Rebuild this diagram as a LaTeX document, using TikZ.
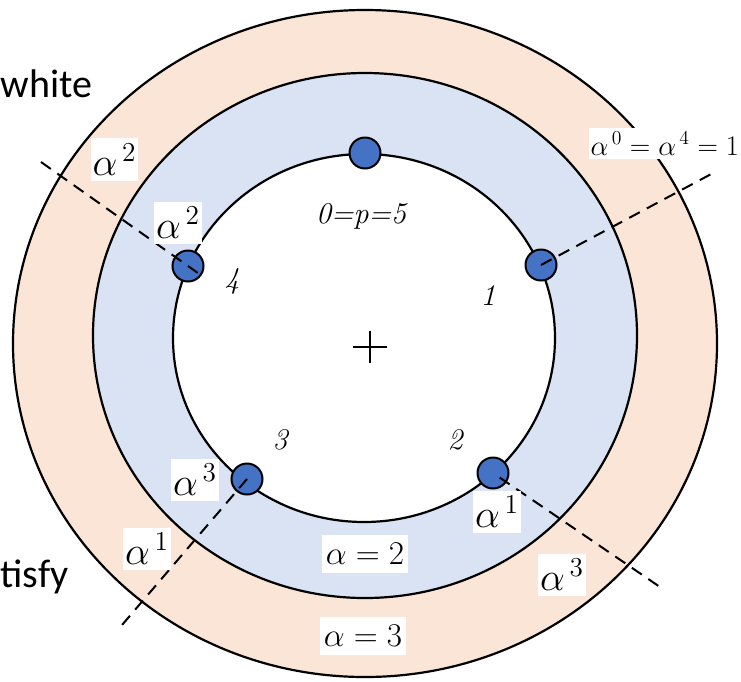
\documentclass[tikz,border=0pt]{standalone}
\usepackage{fontspec}
\newfontfamily\slidefont{Carlito}
\usetikzlibrary{calc}

\definecolor{ringpeach}{HTML}{FBE5D6}
\definecolor{ringblue}{HTML}{DAE3F3}
\definecolor{dotblue}{HTML}{4472C4}

\newcommand{\apow}[1]{$\alpha^{\,#1}$}

\tikzset{
  ring/.style={draw=black, line width=2.2pt},
  root/.style={circle, draw=black, line width=2pt, fill=dotblue, minimum size=31pt, inner sep=0pt},
  ray/.style={line width=2pt, dash pattern=on 12pt off 8pt},
  powlab/.style={fill=white, scale=1.9, inner sep=1pt, minimum height=22.6pt, font=\fontsize{20}{20}\selectfont},
  eqlab/.style={fill=white, scale=1.6, inner sep=2.5pt, minimum height=23.8pt, font=\fontsize{20}{20}\selectfont},
  idx/.style={font=\fontsize{30}{30}\selectfont\itshape},
  slide/.style={inner sep=0pt, font=\slidefont\fontsize{40}{44}\selectfont},
}

\begin{document}
\begin{tikzpicture}[x=1pt,y=-1pt]
\useasboundingbox (0,0) rectangle (741,681);
\clip (0,0) rectangle (741,681);

\filldraw[ring, fill=ringpeach] (365,343.5) ellipse [x radius=352pt, y radius=333.5pt];
\filldraw[ring, fill=ringblue] (365,335.5) ellipse [x radius=272pt, y radius=262.5pt];
\filldraw[ring, fill=white] (364,338) ellipse [x radius=191pt, y radius=184pt];

\draw[line width=1.8pt] (353,347) -- (387,347) (370,331) -- (370,363);

\node[slide, anchor=base west] (w) at (0.5,97) {white};
\node[slide, anchor=base west] (t) at (0.5,587) {tisfy};

\node[root] (r0) at (365,153) {};
\node[root] (r1) at (541,265) {};
\node[root] (r2) at (493,473) {};
\node[root] (r3) at (247,479) {};
\node[root] (r4) at (188,266) {};

\coordinate (e1) at (715,172);
\coordinate (e2) at (660,587);
\coordinate (e3) at (122,625);
\coordinate (e4) at (41,162);

\draw[ray] (r1.center) -- (e1);
\draw[ray] ($(r2.center)!0.04!(e2)$) -- (e2);
\draw[ray] (r3.center) -- (e3);
\draw[ray] (e4) -- ($(e4)!1.09!(r4.center)$);

\node[idx] (p0) at (361,216) {0=p=5};
\node[idx] (p1) at (488,296) {1};
\node[idx] (p2) at (455,440) {2};
\node[idx] (p3) at (280,440) {3};
\node[idx] (p4) at (232,281) {4};

\node[powlab] (a2o) at (114.5,159.5) {\apow{2}};
\node[powlab] (a2i) at (178,223) {\apow{2}};
\node[powlab] (a3i) at (195,480) {\apow{3}};
\node[powlab] (a1o) at (147,549) {\apow{1}};
\node[powlab] (a1i) at (497,512) {\apow{1}};
\node[powlab] (a3o) at (562,575) {\apow{3}};
\node[powlab, anchor=west, scale=0.72] (unit) at (589,143.5) {$\alpha^{\,0}=\alpha^{\,4}=1$};

\node[eqlab] (two) at (365,554) {$\alpha=2$};
\node[eqlab] (three) at (363,636) {$\alpha=3$};
\end{tikzpicture}
\end{document}
